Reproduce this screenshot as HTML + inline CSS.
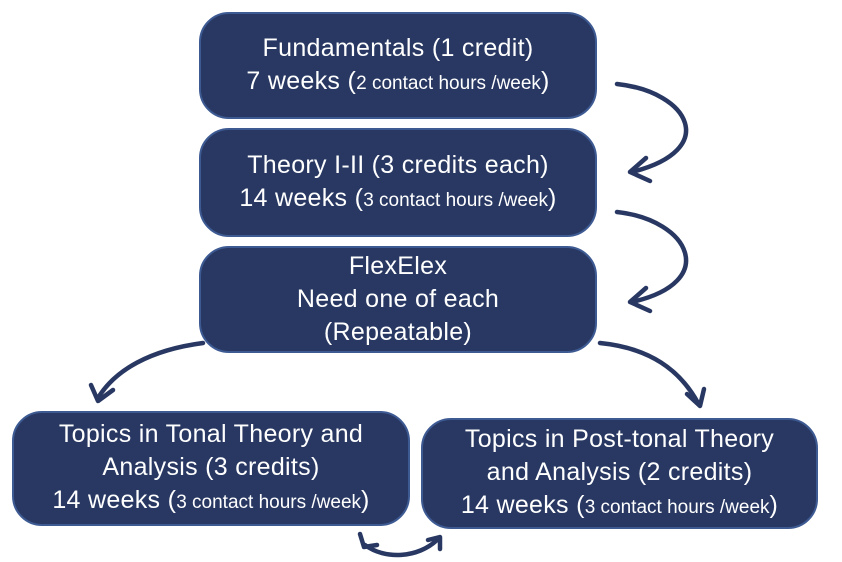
<!DOCTYPE html>
<html><head><style>
body{margin:0;width:842px;height:562px;background:#fff;position:relative;overflow:hidden;font-family:"Liberation Sans",sans-serif}
.b{position:absolute;background:#283862;border:2px solid #3d5a93;border-radius:30px;color:#fff;display:flex;flex-direction:column;justify-content:center;align-items:center;text-align:center;font-size:25px;line-height:33px;box-sizing:border-box;letter-spacing:0.3px;white-space:nowrap}
.b span{font-size:19px;letter-spacing:0}
svg{position:absolute;left:0;top:0}
</style></head><body>
<div class="b" style="left:199px;top:12px;width:398px;height:107px">Fundamentals (1 credit)<div>7 weeks (<span>2 contact hours /week</span>)</div></div>
<div class="b" style="left:199px;top:128px;width:398px;height:109px">Theory I-II (3 credits each)<div>14 weeks (<span>3 contact hours /week</span>)</div></div>
<div class="b" style="left:199px;top:246px;width:398px;height:107px">FlexElex<div>Need one of each</div><div>(Repeatable)</div></div>
<div class="b" style="left:12px;top:411px;width:398px;height:115px">Topics in Tonal Theory and<div>Analysis (3 credits)</div><div>14 weeks (<span>3 contact hours /week</span>)</div></div>
<div class="b" style="left:421px;top:418px;width:397px;height:111px">Topics in Post-tonal Theory<div>and Analysis (2 credits)</div><div>14 weeks (<span>3 contact hours /week</span>)</div></div>
<svg width="842" height="562" fill="none" stroke="#283862" stroke-width="4.5" stroke-linecap="round" stroke-linejoin="round">
<path d="M617 84 C690 92 720 150 632 172"/><path d="M646 158 L630 172 L650 181"/>
<path d="M617 212 C690 220 720 282 632 302"/><path d="M646 288 L630 302 L650 311"/>
<path d="M203 343 C150 350 115 370 98 398"/><path d="M91 385 L98 401 L113 390"/>
<path d="M600 343 C650 348 680 370 698 403"/><path d="M687 394 L700 406 L704 389"/>
<path d="M365 545 C385 560 418 558 437 540"/><path d="M360 534 L364 547 L377 545"/><path d="M428 540 L440 537 L440 549"/>
</svg>
</body></html>
